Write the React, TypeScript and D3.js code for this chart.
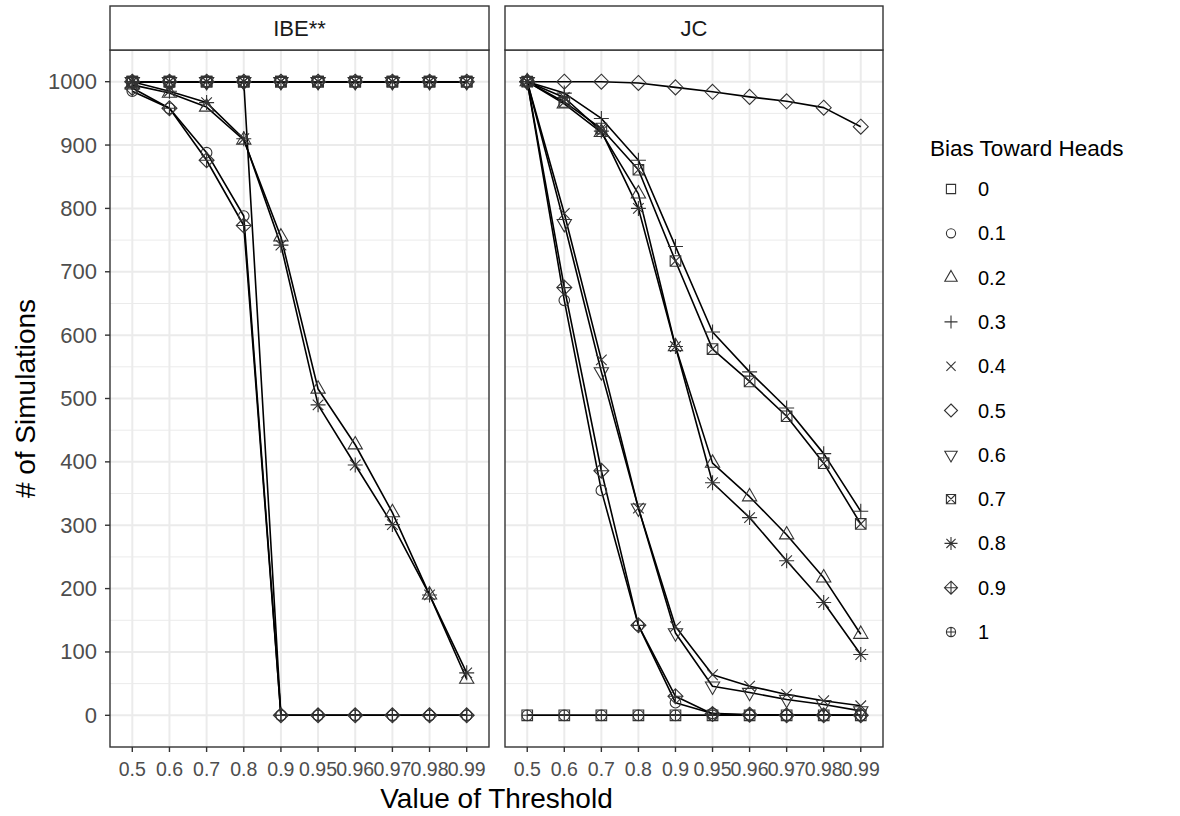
import React from 'react';
import * as d3 from 'd3';

// thresholds on the x axis (discrete)
const thresholds = ['0.5', '0.6', '0.7', '0.8', '0.9', '0.95', '0.96', '0.97', '0.98', '0.99'];
const biases = ['0', '0.1', '0.2', '0.3', '0.4', '0.5', '0.6', '0.7', '0.8', '0.9', '1'];
const panels = ['IBE**', 'JC'];
const yTicks = [0, 100, 200, 300, 400, 500, 600, 700, 800, 900, 1000];

// IBE** counts, one array per bias
const ibe0 = [1000, 1000, 1000, 1000, 1000, 1000, 1000, 1000, 1000, 1000];
const ibe01 = [985, 958, 888, 788, 0, 0, 0, 0, 0, 0];
const ibe02 = [995, 982, 960, 908, 755, 515, 427, 320, 190, 57];
const ibe03 = [1000, 1000, 1000, 1000, 1000, 1000, 1000, 1000, 1000, 1000];
const ibe04 = [1000, 1000, 1000, 1000, 1000, 1000, 1000, 1000, 1000, 1000];
const ibe05 = [1000, 1000, 1000, 1000, 1000, 1000, 1000, 1000, 1000, 1000];
const ibe06 = [1000, 1000, 1000, 1000, 1000, 1000, 1000, 1000, 1000, 1000];
const ibe07 = [1000, 1000, 1000, 1000, 1000, 1000, 1000, 1000, 1000, 1000];
const ibe08 = [1000, 985, 967, 910, 742, 490, 395, 301, 190, 67];
const ibe09 = [990, 958, 876, 773, 0, 0, 0, 0, 0, 0];
const ibe1 = [1000, 1000, 1000, 1000, 0, 0, 0, 0, 0, 0];

// JC counts, one array per bias
const jc0 = [0, 0, 0, 0, 0, 0, 0, 0, 0, 0];
const jc01 = [1000, 655, 355, 142, 20, 3, 1, 0, 0, 0];
const jc02 = [1000, 965, 920, 823, 582, 398, 345, 285, 217, 128];
const jc03 = [1000, 982, 942, 876, 740, 605, 542, 485, 413, 322];
const jc04 = [1000, 792, 561, 327, 140, 64, 46, 33, 23, 15];
const jc05 = [1000, 1000, 1000, 998, 991, 984, 976, 969, 959, 929];
const jc06 = [1000, 776, 542, 327, 130, 46, 36, 25, 17, 7];
const jc07 = [1000, 968, 926, 861, 717, 578, 527, 472, 398, 302];
const jc08 = [1000, 975, 922, 800, 582, 367, 312, 244, 178, 96];
const jc09 = [1000, 675, 386, 142, 30, 2, 1, 0, 0, 0];
const jc1 = [0, 0, 0, 0, 0, 0, 0, 0, 0, 0];

const panelData = [
  [ibe0, ibe01, ibe02, ibe03, ibe04, ibe05, ibe06, ibe07, ibe08, ibe09, ibe1],
  [jc0, jc01, jc02, jc03, jc04, jc05, jc06, jc07, jc08, jc09, jc1],
];

const FONT = '"Liberation Sans", Arial, Helvetica, sans-serif';
const R = 5.3; // base radius of R point symbols

// R pch 0..10 drawn as svg paths
function shapePath(code: number, r: number): string {
  const s2 = Math.SQRT2 * r;
  const circle = (rr: number) => `M${-rr},0a${rr},${rr} 0 1,0 ${2 * rr},0a${rr},${rr} 0 1,0 ${-2 * rr},0Z`;
  const square = (h: number) => `M${-h},${-h}H${h}V${h}H${-h}Z`;
  const plus = (h: number) => `M${-h},0H${h}M0,${-h}V${h}`;
  const cross = (h: number) => `M${-h},${-h}L${h},${h}M${-h},${h}L${h},${-h}`;
  const diamond = (h: number) => `M0,${-h}L${h},0L0,${h}L${-h},0Z`;
  const tr = 1.5551 * r, tx = 1.3468 * r, ty = 0.7776 * r;
  switch (code) {
    case 0: return square(r);
    case 1: return circle(r);
    case 2: return `M0,${-tr}L${tx},${ty}L${-tx},${ty}Z`;
    case 3: return plus(s2);
    case 4: return cross(r);
    case 5: return diamond(s2);
    case 6: return `M0,${tr}L${tx},${-ty}L${-tx},${-ty}Z`;
    case 7: return square(r) + cross(r);
    case 8: return cross(r) + plus(s2);
    case 9: return diamond(s2) + plus(s2);
    default: return circle(r) + plus(r);
  }
}

export default function App() {
  const width = 1180, height = 816;
  const panelX = [[110, 489], [505, 883]];
  const top = 50, bottom = 747, stripTop = 6;

  const y = d3.scaleLinear().domain([-50, 1050]).range([bottom, top]);
  const yMinor = d3.range(50, 1000, 100);

  const legendX = 951, legendY0 = 189, legendStep = 44.3;

  return (
    <svg width={width} height={height} style={{ position: 'absolute', left: 0, top: 0, background: '#fff' }} fontFamily={FONT}>
      {panels.map((p, pi) => {
        const [x0, x1] = panelX[pi];
        const x = d3.scalePoint<string>().domain(thresholds).range([x0, x1]).padding(0.6);
        const line = d3.line<number>()
          .x((_, i) => x(thresholds[i]) as number)
          .y(d => y(d));
        return (
          <g key={p}>
            <rect x={x0} y={top} width={x1 - x0} height={bottom - top} fill="#fff" />
            {yMinor.map(v => (
              <line key={'m' + v} x1={x0} x2={x1} y1={y(v)} y2={y(v)} stroke="#EBEBEB" strokeWidth={1} />
            ))}
            {yTicks.map(v => (
              <line key={'g' + v} x1={x0} x2={x1} y1={y(v)} y2={y(v)} stroke="#EBEBEB" strokeWidth={2} />
            ))}
            {thresholds.map(t => (
              <line key={'v' + t} x1={x(t)} x2={x(t)} y1={top} y2={bottom} stroke="#EBEBEB" strokeWidth={2} />
            ))}
            {panelData[pi].map((vals, bi) => (
              <path key={'l' + bi} d={line(vals) as string} fill="none" stroke="#000" strokeWidth={1.6} strokeLinejoin="round" />
            ))}
            {panelData[pi].map((vals, bi) => (
              <g key={'p' + bi}>
                {vals.map((v, i) => (
                  <path key={i} d={shapePath(bi, R)} transform={`translate(${x(thresholds[i])},${y(v)})`}
                    fill="none" stroke="#333" strokeWidth={1.1} />
                ))}
              </g>
            ))}
            <rect x={x0} y={top} width={x1 - x0} height={bottom - top} fill="none" stroke="#333" strokeWidth={1.4} />
            {/* strip */}
            <rect x={x0} y={stripTop} width={x1 - x0} height={top - stripTop} fill="#fff" stroke="#333" strokeWidth={1.4} />
            <text x={(x0 + x1) / 2} y={(stripTop + top) / 2} textAnchor="middle" dominantBaseline="central" fontSize={22} fill="#1A1A1A">{p}</text>
            {/* x axis */}
            {thresholds.map(t => (
              <g key={'xt' + t}>
                <line x1={x(t)} x2={x(t)} y1={bottom} y2={bottom + 5} stroke="#333" strokeWidth={1.4} />
                <text x={x(t)} y={776} textAnchor="middle" fontSize={19.5} fill="#4D4D4D">{t}</text>
              </g>
            ))}
          </g>
        );
      })}
      {/* y axis */}
      {yTicks.map(v => (
        <g key={'yt' + v}>
          <line x1={105} x2={110} y1={y(v)} y2={y(v)} stroke="#333" strokeWidth={1.4} />
          <text x={97} y={y(v)} textAnchor="end" dominantBaseline="central" fontSize={22} fill="#4D4D4D">{v}</text>
        </g>
      ))}
      <text transform={`translate(25,${(top + bottom) / 2}) rotate(-90)`} textAnchor="middle" dominantBaseline="central" fontSize={28} fill="#000"># of Simulations</text>
      <text x={(110 + 883) / 2} y={808} textAnchor="middle" fontSize={28} fill="#000">Value of Threshold</text>
      {/* legend */}
      <text x={930} y={148} dominantBaseline="central" fontSize={22.5} fill="#000">Bias Toward Heads</text>
      {biases.map((b, i) => (
        <g key={'lg' + b} transform={`translate(0,${legendY0 + i * legendStep})`}>
          <path d={shapePath(i, 4.6)} transform={`translate(${legendX},0)`} fill="none" stroke="#333" strokeWidth={1.1} />
          <text x={978} y={0} dominantBaseline="central" fontSize={20} fill="#000">{b}</text>
        </g>
      ))}
    </svg>
  );
}
